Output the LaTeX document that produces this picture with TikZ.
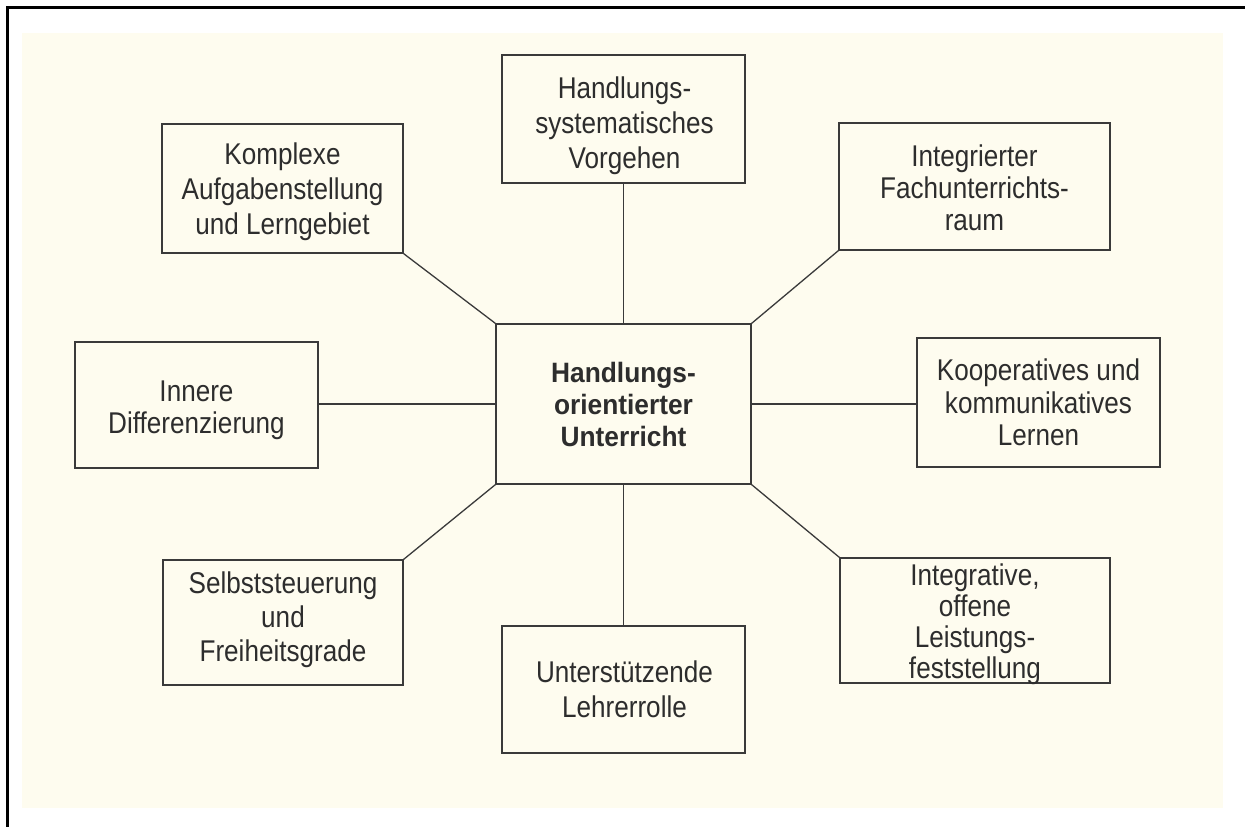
\documentclass[tikz,border=0pt]{standalone}
\usepackage{fontspec}
\setmainfont{Liberation Sans}
\newfontfamily\boxfont[FakeStretch=0.87]{Liberation Sans}
\newfontfamily\centrefont[FakeStretch=0.94]{Liberation Sans}
\definecolor{cream}{RGB}{254,252,239}
\definecolor{ink}{RGB}{58,58,58}
\definecolor{txt}{RGB}{45,45,45}
\tikzset{
  box/.style={draw=ink, line width=1.3pt, fill=cream, inner sep=0pt},
  boxtext/.style={anchor=north, inner sep=0pt, align=center, text=txt,
    font=\boxfont\fontsize{30pt}{#1}\selectfont},
  boxtext/.default=35pt,
  link/.style={draw=ink, line width=1.3pt},
  frameline/.style={draw=black, line width=2.6pt}
}
\begin{document}
\begin{tikzpicture}[x=1pt,y=-1pt]
\useasboundingbox (0,0) rectangle (1245,827);
\fill[white] (0,0) rectangle (1245,827);
\fill[cream] (22,33) rectangle (1223,808);
\draw[frameline] (7.5,827) -- (7.5,7.5) -- (1245,7.5);

% boxes
\node[box, minimum width=255pt, minimum height=160pt] (C) at (623.5,404) {};
\node[box, minimum width=243pt, minimum height=128pt] (T) at (623.5,119) {};
\node[box, minimum width=241pt, minimum height=129pt] (TL) at (282.5,188.5) {};
\node[box, minimum width=271pt, minimum height=127pt] (TR) at (974.5,186.5) {};
\node[box, minimum width=243pt, minimum height=126pt] (L) at (196.5,405) {};
\node[box, minimum width=243pt, minimum height=129pt] (R) at (1038.5,402.5) {};
\node[box, minimum width=240pt, minimum height=125pt] (BL) at (283,622.5) {};
\node[box, minimum width=243pt, minimum height=127pt] (B) at (623.5,689.5) {};
\node[box, minimum width=270pt, minimum height=125pt] (BR) at (975,620.5) {};

% texts
\node[boxtext, font=\centrefont\fontsize{28pt}{32pt}\selectfont\bfseries] (Ct) at (623.5,362) {Handlungs-\\orientierter\\Unterricht};
\node[boxtext] (Tt) at (624.5,77) {Handlungs-\\systematisches\\Vorgehen};
\node[boxtext] (TLt) at (282.5,143) {Komplexe\\Aufgabenstellung\\und Lerngebiet};
\node[boxtext=32pt] (TRt) at (974.5,145) {Integrierter\\Fachunterrichts-\\raum};
\node[boxtext=32pt] (Lt) at (196.5,381) {Innere\\Differenzierung};
\node[boxtext=32.5pt] (Rt) at (1038.5,359) {Kooperatives und\\kommunikatives\\Lernen};
\node[boxtext=34pt] (BLt) at (283,572) {Selbststeuerung\\und\\Freiheitsgrade};
\node[boxtext] (Bt) at (624.5,661) {Unterstützende\\Lehrerrolle};
\node[boxtext=30.7pt] (BRt) at (975,564) {Integrative,\\offene\\Leistungs-\\feststellung};

% connectors
\draw[link] (T.south) -- (C.north);
\draw[link] (C.south) -- (B.north);
\draw[link] (TL.south east) -- (C.north west);
\draw[link] (C.north east) -- (TR.south west);
\draw[link] (C.west) -- (L.east |- C.west);
\draw[link] (C.east) -- (R.west |- C.east);
\draw[link] (C.south west) -- (BL.north east);
\draw[link] (C.south east) -- (BR.north west);
\end{tikzpicture}
\end{document}
